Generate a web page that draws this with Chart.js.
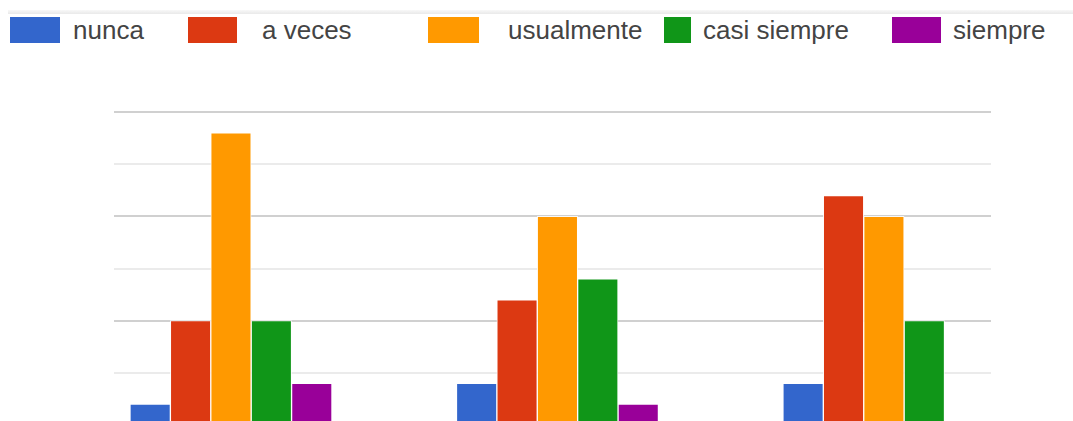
<!DOCTYPE html>
<html>
<head>
<meta charset="utf-8">
<script src="https://cdn.jsdelivr.net/npm/chart.js@4/dist/chart.umd.min.js"></script>
<style>
  html, body { margin: 0; padding: 0; background: #fff; }
  body { width: 1073px; height: 421px; overflow: hidden; position: relative; font-family: "Liberation Sans", Arial, sans-serif; }
  .topline { position: absolute; left: 8px; right: 0; top: 10px; height: 4px; background: linear-gradient(#f8f8f8, #e9e9e9); }
  #legend { position: absolute; left: 0; top: 0; width: 1073px; height: 60px; }
  #legend .box { position: absolute; top: 17px; height: 26px; }
  #legend .txt { position: absolute; top: 14px; font-size: 26px; line-height: 32px; color: #444; white-space: nowrap; }
  .wrap { position: absolute; left: 0; top: 0; width: 1073px; height: 445px; }
</style>
</head>
<body>
<div class="topline"></div>
<div id="legend"></div>
<div class="wrap"><canvas id="grafico"></canvas></div>
<script>
// datos
const categorias = ['Grupo 1', 'Grupo 2', 'Grupo 3'];
const nunca = [1, 2, 2];
const aVeces = [5, 6, 11];
const usualmente = [14, 10, 10];
const casiSiempre = [5, 7, 5];
const siempre = [2, 1, 0];

// posiciones de la leyenda (como en la captura original)
const legendaX = [10, 188, 428, 664, 892];
const legendaCaja = [50, 49, 51, 27, 49];
const legendaTexto = [73, 262, 508, 703, 953];

const colores = ['#3366cc', '#dc3912', '#ff9900', '#109618', '#990099'];

function serie(valores) {
    return valores.map((v, i) => ({ x: i, y: v }));
}

const htmlLegend = {
    id: 'htmlLegend',
    afterUpdate(chart) {
        const cont = document.getElementById('legend');
        cont.innerHTML = '';
        const items = chart.options.plugins.legend.labels.generateLabels(chart);
        items.forEach((it, i) => {
            const box = document.createElement('div');
            box.className = 'box';
            box.style.left = legendaX[i] + 'px';
            box.style.width = legendaCaja[i] + 'px';
            box.style.background = it.fillStyle;
            const txt = document.createElement('div');
            txt.className = 'txt';
            txt.style.left = legendaTexto[i] + 'px';
            txt.textContent = it.text;
            cont.appendChild(box);
            cont.appendChild(txt);
        });
    }
};

const ctx = document.getElementById('grafico');
const chart = new Chart(ctx, {
    type: 'bar',
    data: {
        datasets: [
            { label: 'nunca', data: serie(nunca), backgroundColor: colores[0] },
            { label: 'a veces', data: serie(aVeces), backgroundColor: colores[1] },
            { label: 'usualmente', data: serie(usualmente), backgroundColor: colores[2] },
            { label: 'casi siempre', data: serie(casiSiempre), backgroundColor: colores[3] },
            { label: 'siempre', data: serie(siempre), backgroundColor: colores[4] }
        ]
    },
    options: {
        responsive: true,
        maintainAspectRatio: false,
        animation: false,
        barThickness: 40.4,
        borderWidth: 1,
        borderColor: 'rgba(255,255,255,0.85)',
        borderSkipped: false,
        layout: {
            padding: { top: 112, left: 114, right: 82, bottom: 20 }
        },
        plugins: {
            legend: { display: false },
            tooltip: {
                callbacks: {
                    title: (items) => categorias[items[0].parsed.x]
                }
            }
        },
        scales: {
            x: {
                type: 'linear',
                display: false,
                offset: false,
                min: -0.3583,
                max: 2.328,
                ticks: { stepSize: 1, includeBounds: false }
            },
            y: {
                min: 0,
                max: 15,
                ticks: { display: false, stepSize: 2.5 },
                border: { display: false },
                grid: {
                    drawTicks: false,
                    lineWidth: 2,
                    color: (c) => c.tick && c.tick.value % 5 === 0 ? '#d0d0d0' : '#ebebeb'
                }
            }
        }
    },
    plugins: [htmlLegend]
});
</script>
</body>
</html>
